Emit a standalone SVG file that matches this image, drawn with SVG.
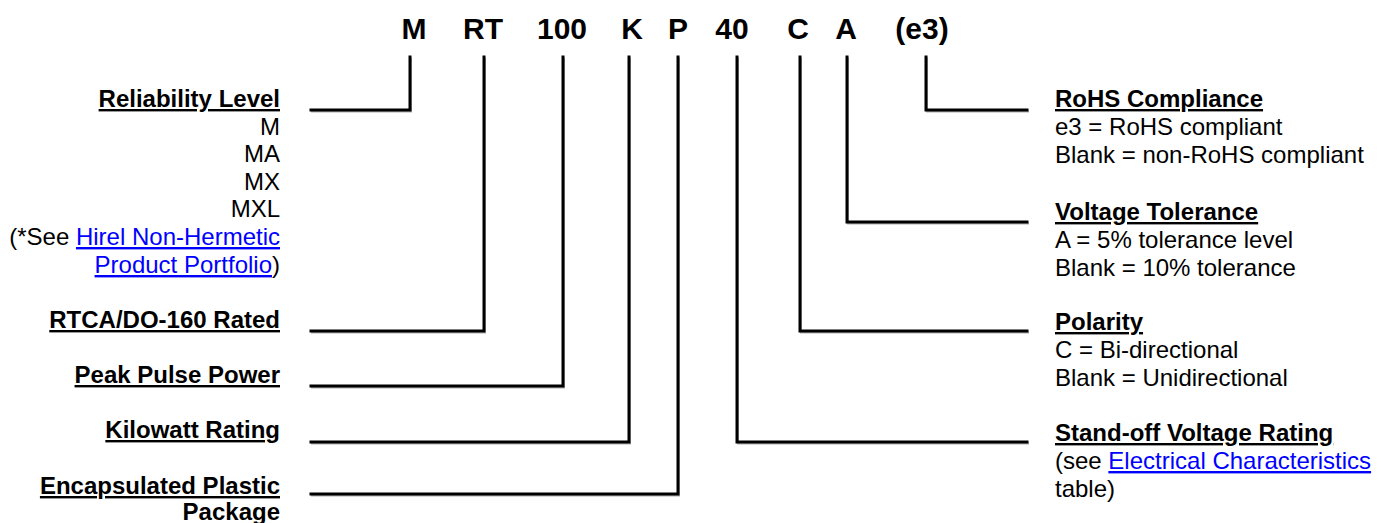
<svg xmlns="http://www.w3.org/2000/svg" width="1383" height="523" viewBox="0 0 1383 523">
<style>
text{font-family:"Liberation Sans",Arial,sans-serif;fill:#000}
.code{font-size:30px;font-weight:bold;text-anchor:middle}
.t{font-size:24px;font-weight:bold;text-decoration:underline}
.b{font-size:24px}
.l{text-anchor:end}
.lnk{fill:#0000FF;text-decoration:underline}
.c{fill:none;stroke:#000;stroke-width:3;stroke-linejoin:miter;stroke-linecap:square}
.s{fill:none;stroke:#b0b0b0;stroke-width:2;stroke-linecap:square}
</style>
<rect width="1383" height="523" fill="#fff"/>
<g id="code">
<text class="code" x="414" y="39">M</text>
<text class="code" x="483" y="39">RT</text>
<text class="code" x="562" y="39">100</text>
<text class="code" x="632" y="39">K</text>
<text class="code" x="678" y="39">P</text>
<text class="code" x="732" y="39">40</text>
<text class="code" x="798" y="39">C</text>
<text class="code" x="846" y="39">A</text>
<text class="code" x="922" y="39">(e3)</text>
</g>
<g id="connectors">
<g transform="translate(1,1.5)">
<path class="s" d="M311,110 H410 V57"/>
<path class="s" d="M311,331 H484 V57"/>
<path class="s" d="M311,386 H563 V57"/>
<path class="s" d="M311,442 H629 V57"/>
<path class="s" d="M311,494 H678 V57"/>
<path class="s" d="M1027,442 H737 V57"/>
<path class="s" d="M1027,331 H800 V57"/>
<path class="s" d="M1027,222 H847 V57"/>
<path class="s" d="M1027,110 H926 V57"/>
</g>
<path class="c" d="M311,110 H410 V57"/>
<path class="c" d="M311,331 H484 V57"/>
<path class="c" d="M311,386 H563 V57"/>
<path class="c" d="M311,442 H629 V57"/>
<path class="c" d="M311,494 H678 V57"/>
<path class="c" d="M1027,442 H737 V57"/>
<path class="c" d="M1027,331 H800 V57"/>
<path class="c" d="M1027,222 H847 V57"/>
<path class="c" d="M1027,110 H926 V57"/>
</g>
<g id="reliability">
<text class="t l" x="280" y="107">Reliability Level</text>
<text class="b l" x="280" y="135">M</text>
<text class="b l" x="280" y="162">MA</text>
<text class="b l" x="280" y="190">MX</text>
<text class="b l" x="280" y="217">MXL</text>
<text class="b l" x="280" y="245">(*See <tspan class="lnk">Hirel Non-Hermetic</tspan></text>
<text class="b l" x="280" y="273"><tspan class="lnk">Product Portfolio</tspan>)</text>
</g>
<g id="rtca"><text class="t l" x="280" y="328">RTCA/DO-160 Rated</text></g>
<g id="peak"><text class="t l" x="280" y="383">Peak Pulse Power</text></g>
<g id="kilowatt"><text class="t l" x="280" y="438">Kilowatt Rating</text></g>
<g id="package">
<text class="t l" x="280" y="494">Encapsulated Plastic</text>
<text class="b l" x="280" y="520" font-weight="bold">Package</text>
</g>
<g id="rohs">
<text class="t" x="1055" y="107">RoHS Compliance</text>
<text class="b" x="1055" y="135">e3 = RoHS compliant</text>
<text class="b" x="1055" y="163">Blank = non-RoHS compliant</text>
</g>
<g id="tolerance">
<text class="t" x="1055" y="220">Voltage Tolerance</text>
<text class="b" x="1055" y="248">A = 5% tolerance level</text>
<text class="b" x="1055" y="276">Blank = 10% tolerance</text>
</g>
<g id="polarity">
<text class="t" x="1055" y="330">Polarity</text>
<text class="b" x="1055" y="358">C = Bi-directional</text>
<text class="b" x="1055" y="386">Blank = Unidirectional</text>
</g>
<g id="standoff">
<text class="t" x="1055" y="441">Stand-off Voltage Rating</text>
<text class="b" x="1055" y="469">(see <tspan class="lnk">Electrical Characteristics</tspan></text>
<text class="b" x="1055" y="497">table)</text>
</g>
</svg>
